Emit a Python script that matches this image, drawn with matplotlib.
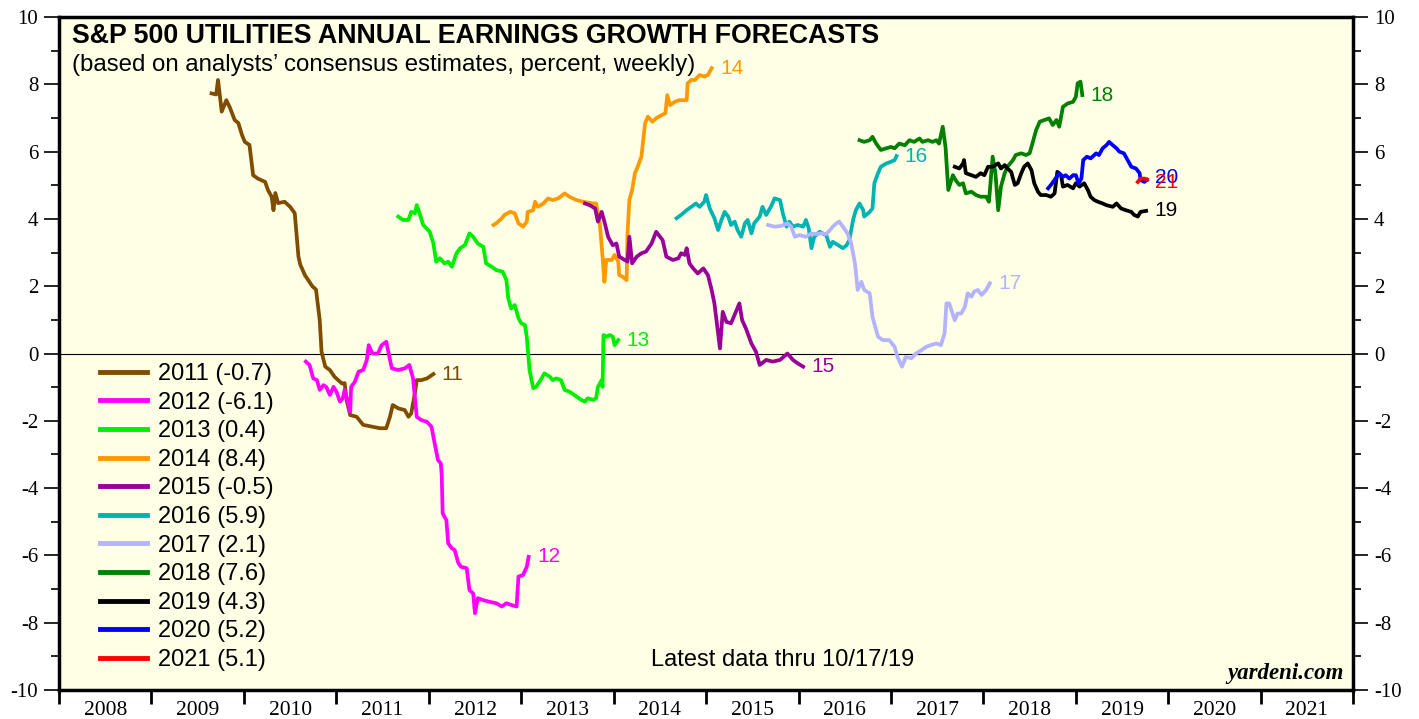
import matplotlib
matplotlib.use('Agg')
import matplotlib.pyplot as plt
from matplotlib.ticker import MultipleLocator, FixedLocator, NullFormatter

plt.rcParams['axes.unicode_minus'] = False

# forecasts by year, x = date in decimal years, y = growth forecast (%)
t2011 = [2009.65, 2009.70, 2009.72, 2009.76, 2009.81, 2009.85, 2009.90, 2009.94, 2009.98, 2010.01,
         2010.06, 2010.10, 2010.15, 2010.23, 2010.26, 2010.30, 2010.32, 2010.34, 2010.37, 2010.44,
         2010.50, 2010.55, 2010.59, 2010.61, 2010.66, 2010.74, 2010.78, 2010.82, 2010.84, 2010.88,
         2010.93, 2010.98, 2011.06, 2011.09, 2011.11, 2011.15, 2011.22, 2011.29, 2011.38, 2011.47,
         2011.54, 2011.58, 2011.61, 2011.67, 2011.74, 2011.78, 2011.81, 2011.85, 2011.87, 2011.92,
         2011.98, 2012.05]
v2011 = [7.73, 7.70, 8.13, 7.19, 7.53, 7.30, 6.94, 6.85, 6.49, 6.29,
         6.20, 5.30, 5.20, 5.10, 4.86, 4.66, 4.26, 4.77, 4.47, 4.51,
         4.36, 4.17, 2.88, 2.64, 2.33, 2.00, 1.90, 1.00, 0.05, -0.39,
         -0.49, -0.69, -0.89, -0.88, -1.38, -1.83, -1.88, -2.12, -2.17, -2.22,
         -2.22, -1.88, -1.53, -1.63, -1.68, -1.88, -1.78, -1.18, -0.79, -0.79,
         -0.74, -0.61]

t2012 = [2010.67, 2010.71, 2010.75, 2010.79, 2010.82, 2010.86, 2010.89, 2010.93, 2010.97, 2011.00,
         2011.04, 2011.07, 2011.09, 2011.13, 2011.15, 2011.16, 2011.20, 2011.24, 2011.29, 2011.33,
         2011.35, 2011.39, 2011.45, 2011.49, 2011.54, 2011.60, 2011.67, 2011.74, 2011.79, 2011.83,
         2011.87, 2011.92, 2011.98, 2012.03, 2012.06, 2012.10, 2012.13, 2012.14, 2012.15, 2012.19,
         2012.21, 2012.25, 2012.28, 2012.32, 2012.35, 2012.41, 2012.44, 2012.48, 2012.50, 2012.53,
         2012.59, 2012.66, 2012.73, 2012.79, 2012.84, 2012.89, 2012.95, 2012.97, 2013.02, 2013.06,
         2013.08]
v2012 = [-0.24, -0.34, -0.74, -0.79, -1.08, -0.94, -0.99, -1.23, -0.99, -1.13,
         -1.43, -1.33, -1.08, -1.48, -1.73, -0.99, -0.84, -0.54, -0.49, -0.19,
         0.25, 0.00, 0.00, 0.25, 0.35, -0.44, -0.49, -0.44, -0.34, -0.74,
         -1.88, -1.98, -2.03, -2.18, -2.62, -3.17, -3.26, -3.61, -4.75, -4.95,
         -5.64, -5.79, -5.84, -6.23, -6.34, -6.38, -7.03, -7.13, -7.72, -7.27,
         -7.33, -7.38, -7.42, -7.52, -7.42, -7.47, -7.52, -6.63, -6.58, -6.34,
         -6.04]

t2013 = [2011.67, 2011.72, 2011.78, 2011.81, 2011.85, 2011.87, 2011.90, 2011.94, 2012.01, 2012.05,
         2012.08, 2012.12, 2012.17, 2012.21, 2012.25, 2012.30, 2012.34, 2012.39, 2012.44, 2012.48,
         2012.53, 2012.59, 2012.62, 2012.68, 2012.73, 2012.80, 2012.84, 2012.86, 2012.89, 2012.93,
         2012.97, 2013.00, 2013.04, 2013.06, 2013.09, 2013.13, 2013.16, 2013.22, 2013.25, 2013.31,
         2013.34, 2013.38, 2013.43, 2013.47, 2013.52, 2013.60, 2013.65, 2013.69, 2013.72, 2013.78,
         2013.81, 2013.83, 2013.87, 2013.88, 2013.89, 2013.92, 2013.96, 2013.99, 2014.01, 2014.05]
v2013 = [4.07, 3.97, 3.97, 4.21, 4.17, 4.41, 4.17, 3.82, 3.62, 3.27,
         2.73, 2.83, 2.68, 2.73, 2.58, 2.98, 3.13, 3.22, 3.57, 3.47,
         3.27, 3.17, 2.68, 2.58, 2.48, 2.43, 2.18, 1.64, 1.34, 1.44,
         1.05, 0.90, 0.85, 0.50, -0.49, -1.03, -0.99, -0.74, -0.59, -0.69,
         -0.79, -0.74, -0.79, -1.08, -1.13, -1.28, -1.38, -1.43, -1.33, -1.38,
         -1.33, -0.99, -0.79, -0.99, 0.55, 0.50, 0.55, 0.50, 0.25, 0.40]

t2014 = [2012.70, 2012.73, 2012.79, 2012.82, 2012.88, 2012.93, 2012.97, 2013.02, 2013.06, 2013.07,
         2013.13, 2013.15, 2013.18, 2013.24, 2013.29, 2013.34, 2013.40, 2013.47, 2013.52, 2013.60,
         2013.67, 2013.78, 2013.81, 2013.85, 2013.88, 2013.90, 2013.92, 2013.98, 2014.01, 2014.05,
         2014.06, 2014.10, 2014.14, 2014.15, 2014.17, 2014.20, 2014.23, 2014.26, 2014.30, 2014.34,
         2014.37, 2014.42, 2014.46, 2014.52, 2014.56, 2014.58, 2014.61, 2014.66, 2014.71, 2014.79,
         2014.80, 2014.84, 2014.88, 2014.93, 2014.98, 2015.02, 2015.06]
v2014 = [3.82, 3.87, 4.02, 4.12, 4.21, 4.17, 3.87, 3.77, 3.92, 4.21,
         4.26, 4.51, 4.36, 4.46, 4.61, 4.56, 4.61, 4.76, 4.66, 4.56,
         4.51, 4.46, 4.46, 3.87, 2.88, 2.13, 2.78, 2.78, 2.93, 2.73,
         2.33, 2.28, 2.18, 3.57, 4.56, 4.86, 5.36, 5.55, 5.85, 6.84,
         7.04, 6.89, 6.99, 7.09, 7.14, 7.68, 7.38, 7.48, 7.53, 7.53,
         8.03, 8.13, 8.13, 8.28, 8.23, 8.28, 8.48]

t2015 = [2013.69, 2013.74, 2013.80, 2013.83, 2013.87, 2013.90, 2013.94, 2013.99, 2014.03, 2014.06,
         2014.12, 2014.15, 2014.17, 2014.20, 2014.25, 2014.30, 2014.35, 2014.41, 2014.46, 2014.53,
         2014.57, 2014.64, 2014.70, 2014.73, 2014.77, 2014.79, 2014.82, 2014.86, 2014.91, 2014.97,
         2015.02, 2015.06, 2015.09, 2015.15, 2015.18, 2015.22, 2015.27, 2015.33, 2015.36, 2015.39,
         2015.43, 2015.49, 2015.54, 2015.58, 2015.65, 2015.72, 2015.80, 2015.88, 2015.94, 2015.99,
         2016.05]
v2015 = [4.46, 4.41, 4.31, 3.92, 4.21, 3.92, 3.47, 3.22, 3.27, 2.88,
         2.78, 2.73, 3.47, 2.68, 2.88, 2.98, 3.03, 3.27, 3.62, 3.37,
         2.88, 2.78, 2.83, 2.98, 2.93, 3.13, 2.68, 2.53, 2.38, 2.53,
         2.33, 1.89, 1.49, 0.15, 1.24, 0.94, 0.90, 1.29, 1.49, 0.99,
         0.75, 0.30, 0.05, -0.34, -0.19, -0.24, -0.19, 0.00, -0.19, -0.29,
         -0.39]

t2016 = [2014.68, 2014.73, 2014.79, 2014.84, 2014.89, 2014.93, 2014.98, 2015.00, 2015.04, 2015.09,
         2015.13, 2015.16, 2015.20, 2015.24, 2015.27, 2015.31, 2015.34, 2015.38, 2015.42, 2015.45,
         2015.49, 2015.52, 2015.58, 2015.61, 2015.65, 2015.71, 2015.74, 2015.80, 2015.83, 2015.87,
         2015.90, 2015.94, 2015.99, 2016.05, 2016.08, 2016.11, 2016.14, 2016.17, 2016.23, 2016.26,
         2016.30, 2016.34, 2016.37, 2016.43, 2016.48, 2016.52, 2016.55, 2016.59, 2016.62, 2016.66,
         2016.70, 2016.71, 2016.77, 2016.80, 2016.82, 2016.86, 2016.89, 2016.95, 2017.00, 2017.04,
         2017.06]
v2016 = [4.02, 4.12, 4.26, 4.36, 4.46, 4.36, 4.51, 4.71, 4.31, 4.02,
         3.67, 3.92, 4.21, 4.07, 3.82, 3.92, 3.67, 3.47, 3.87, 3.97,
         3.57, 3.87, 4.07, 4.36, 4.12, 4.41, 4.61, 4.56, 4.17, 3.77,
         3.92, 3.77, 3.82, 3.77, 3.97, 3.72, 3.13, 3.47, 3.62, 3.57,
         3.52, 3.17, 3.32, 3.22, 3.13, 3.22, 3.37, 3.97, 4.26, 4.46,
         4.26, 4.07, 4.21, 4.31, 5.06, 5.36, 5.55, 5.65, 5.70, 5.75,
         5.87]

t2017 = [2015.67, 2015.74, 2015.81, 2015.88, 2015.92, 2015.96, 2016.01, 2016.08, 2016.14, 2016.19,
         2016.25, 2016.30, 2016.34, 2016.37, 2016.41, 2016.44, 2016.48, 2016.53, 2016.57, 2016.61,
         2016.64, 2016.68, 2016.71, 2016.77, 2016.80, 2016.86, 2016.91, 2016.98, 2017.04, 2017.07,
         2017.12, 2017.16, 2017.22, 2017.27, 2017.33, 2017.38, 2017.43, 2017.49, 2017.54, 2017.58,
         2017.60, 2017.63, 2017.69, 2017.72, 2017.76, 2017.80, 2017.83, 2017.87, 2017.90, 2017.94,
         2017.98, 2018.03, 2018.07]
v2017 = [3.82, 3.77, 3.79, 3.87, 3.77, 3.47, 3.52, 3.47, 3.57, 3.55,
         3.57, 3.55, 3.67, 3.77, 3.87, 3.92, 3.77, 3.57, 3.27, 2.68,
         1.89, 2.13, 1.89, 1.79, 1.09, 0.50, 0.40, 0.40, 0.20, -0.10,
         -0.39, -0.10, -0.14, 0.00, 0.10, 0.20, 0.25, 0.30, 0.25, 0.60,
         1.49, 1.49, 0.99, 1.19, 1.19, 1.39, 1.79, 1.69, 1.84, 1.89,
         1.74, 1.89, 2.09]

t2018 = [2016.66, 2016.71, 2016.77, 2016.80, 2016.84, 2016.89, 2016.95, 2017.00, 2017.04, 2017.09,
         2017.15, 2017.20, 2017.25, 2017.31, 2017.34, 2017.40, 2017.45, 2017.49, 2017.52, 2017.56,
         2017.59, 2017.62, 2017.67, 2017.70, 2017.74, 2017.78, 2017.81, 2017.87, 2017.92, 2017.97,
         2018.03, 2018.06, 2018.10, 2018.13, 2018.16, 2018.19, 2018.23, 2018.26, 2018.32, 2018.35,
         2018.41, 2018.46, 2018.50, 2018.53, 2018.57, 2018.61, 2018.66, 2018.71, 2018.75, 2018.79,
         2018.82, 2018.86, 2018.91, 2018.97, 2019.00, 2019.02, 2019.05, 2019.07]
v2018 = [6.34, 6.29, 6.34, 6.44, 6.24, 6.05, 6.10, 6.14, 6.10, 6.24,
         6.19, 6.34, 6.29, 6.39, 6.29, 6.34, 6.29, 6.34, 6.24, 6.74,
         6.14, 4.86, 5.30, 5.15, 5.01, 5.06, 4.76, 4.81, 4.71, 4.66,
         4.66, 4.51, 5.85, 5.36, 4.26, 4.96, 5.36, 5.55, 5.75, 5.90,
         5.95, 5.90, 5.95, 6.24, 6.64, 6.89, 6.94, 6.99, 6.79, 6.94,
         6.74, 7.33, 7.43, 7.48, 7.63, 8.03, 8.08, 7.68]

t2019 = [2017.69, 2017.74, 2017.78, 2017.79, 2017.81, 2017.87, 2017.92, 2017.97, 2018.01, 2018.05,
         2018.10, 2018.16, 2018.19, 2018.23, 2018.26, 2018.30, 2018.34, 2018.37, 2018.41, 2018.44,
         2018.48, 2018.52, 2018.55, 2018.59, 2018.62, 2018.68, 2018.73, 2018.77, 2018.80, 2018.84,
         2018.86, 2018.91, 2018.97, 2019.00, 2019.04, 2019.09, 2019.13, 2019.16, 2019.20, 2019.24,
         2019.29, 2019.33, 2019.40, 2019.44, 2019.49, 2019.54, 2019.60, 2019.63, 2019.67, 2019.70,
         2019.76]
v2019 = [5.55, 5.50, 5.65, 5.75, 5.36, 5.30, 5.25, 5.36, 5.30, 5.55,
         5.55, 5.65, 5.50, 5.60, 5.50, 5.40, 5.01, 5.06, 5.36, 5.55,
         5.65, 5.45, 5.06, 4.81, 4.71, 4.71, 4.66, 4.76, 5.40, 5.30,
         4.96, 5.01, 4.91, 5.06, 4.96, 5.06, 4.86, 4.66, 4.56, 4.51,
         4.46, 4.41, 4.36, 4.46, 4.31, 4.26, 4.21, 4.12, 4.07, 4.21,
         4.24]

t2020 = [2018.70, 2018.73, 2018.77, 2018.82, 2018.86, 2018.89, 2018.93, 2018.97, 2019.00, 2019.03,
         2019.06, 2019.08, 2019.12, 2019.16, 2019.22, 2019.25, 2019.29, 2019.33, 2019.36, 2019.40,
         2019.44, 2019.47, 2019.52, 2019.56, 2019.60, 2019.65, 2019.69, 2019.70, 2019.74, 2019.77]
v2020 = [4.91, 5.01, 5.16, 5.36, 5.25, 5.30, 5.20, 5.30, 5.30, 5.06,
         5.20, 5.75, 5.85, 5.80, 5.95, 5.90, 6.10, 6.19, 6.29, 6.19,
         6.10, 6.00, 5.95, 5.75, 5.55, 5.50, 5.36, 5.16, 5.10, 5.16]

t2021 = [2019.67, 2019.70, 2019.74, 2019.77]
v2021 = [5.10, 5.20, 5.20, 5.17]

years = ['2011', '2012', '2013', '2014', '2015', '2016', '2017', '2018', '2019', '2020', '2021']
latest = ['-0.7', '-6.1', '0.4', '8.4', '-0.5', '5.9', '2.1', '7.6', '4.3', '5.2', '5.1']
colors = ['#7f4c00', '#ff00ff', '#00ee00', '#ff9900', '#990099', '#00b3b3',
          '#b3b3ff', '#008000', '#000000', '#0000ff', '#ff0000']
xs = [t2011, t2012, t2013, t2014, t2015, t2016, t2017, t2018, t2019, t2020, t2021]
ys = [v2011, v2012, v2013, v2014, v2015, v2016, v2017, v2018, v2019, v2020, v2021]
label_dy = [0, 0, 0, 0, 0, 0, 0, 0, 0, 2, -2]

fig = plt.figure(figsize=(14.19, 7.19), dpi=100)
ax = fig.add_axes([0.0416, 0.0403, 0.912, 0.936])
ax.set_facecolor('#ffffe6')

ax.axhline(0, color='black', lw=0.8, zorder=1)

for i in range(len(years)):
    ax.plot(xs[i], ys[i], color=colors[i], lw=2.7, solid_joinstyle='round',
            label=years[i] + ' (' + latest[i] + ')', zorder=2 + i)
    ax.annotate(years[i][2:], (xs[i][-1], ys[i][-1]), xytext=(6, label_dy[i]),
                textcoords='offset points', va='center', ha='left',
                color=colors[i], fontsize=15, family='Liberation Sans')

ax.set_xlim(2008, 2022)
ax.set_ylim(-10, 10)

# x axis: year boundaries as ticks, year names in between
ax.xaxis.set_major_locator(FixedLocator(list(range(2008, 2023))))
ax.xaxis.set_major_formatter(NullFormatter())
ax.xaxis.set_minor_locator(FixedLocator([y + 0.5 for y in range(2008, 2022)]))
ax.set_xticklabels([str(y) for y in range(2008, 2022)], minor=True)
ax.tick_params(axis='x', which='major', direction='out', length=10, width=2)
ax.tick_params(axis='x', which='minor', length=0, pad=8, labelsize=15.5)

ax.yaxis.set_major_locator(MultipleLocator(2))
ax.yaxis.set_minor_locator(MultipleLocator(1))
ax.tick_params(axis='y', which='major', direction='out', length=11, width=1.2,
               left=True, right=True, labelleft=True, labelright=True, labelsize=15, pad=4)
ax.tick_params(axis='y', which='minor', direction='out', length=6, width=1.2,
               left=True, right=True)
for lab in ax.get_xticklabels(minor=True) + ax.get_yticklabels():
    lab.set_family('Liberation Serif')

for s in ax.spines.values():
    s.set_linewidth(2.5)

ax.text(0.010, 0.972, 'S&P 500 UTILITIES ANNUAL EARNINGS GROWTH FORECASTS', transform=ax.transAxes,
        fontsize=19.3, fontweight='bold', family='Liberation Sans', va='center', ha='left')
ax.text(0.010, 0.929, '(based on analysts\u2019 consensus estimates, percent, weekly)',
        transform=ax.transAxes, fontsize=17.3, family='Liberation Sans', va='center', ha='left')
ax.text(0.5595, 0.0446, 'Latest data thru 10/17/19', transform=ax.transAxes,
        fontsize=17, family='Liberation Sans', va='center', ha='center')
ax.text(0.9923, 0.024, 'yardeni.com', transform=ax.transAxes, fontsize=16.5,
        family='Liberation Serif', fontweight='bold', fontstyle='italic', va='center', ha='right')

leg = ax.legend(loc='upper left', bbox_to_anchor=(0.0317, 0.486), borderaxespad=0, borderpad=0,
                frameon=False, handlelength=2.0, handletextpad=0.45, labelspacing=0.28,
                prop={'family': 'Liberation Sans', 'size': 17})
for h in leg.get_lines():
    h.set_linewidth(3.5)

fig.savefig('out.png', dpi=100)
